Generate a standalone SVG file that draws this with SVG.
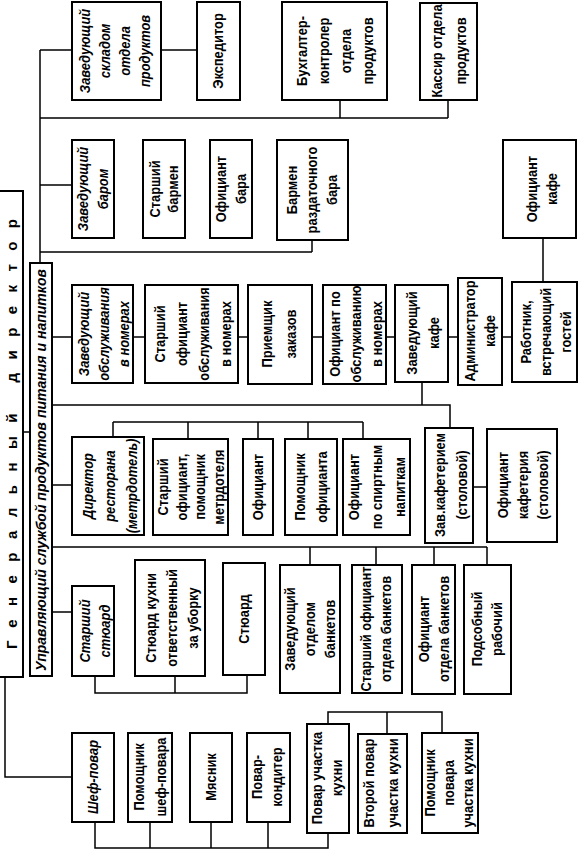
<svg xmlns="http://www.w3.org/2000/svg" width="581" height="852" viewBox="0 0 581 852">
<style>
.b{fill:#fff;stroke:#000;stroke-width:2}
.c{fill:none;stroke:#000;stroke-width:1.5}
.t{font-family:"Liberation Sans",Arial,sans-serif;font-size:15px;font-weight:bold;text-anchor:middle;fill:#000}
.i{font-style:italic}
</style>
<rect width="581" height="852" fill="#fff"/>
<g id="connectors">
<path class="c" d="M40 50V263M40 50H72M161 50H197M40 118H448M340 100V118M448 100V118M40 185H72M40 252H312M312 240V252M543 238V282"/>
<path class="c" d="M23 432H30M52 337H512M422 382V405M52 405H450V428M52 485H72M113 422H363M113 422V437M188 422V439M258 422V439M308 422V439M363 422V439M473 487H487"/>
<path class="c" d="M52 547H487M310 547V565M376 547V565M434 547V565M487 547V565M52 612H72M95 676V693H247V675M175 676V693"/>
<path class="c" d="M5 677V777H72M95 822V848H328V833M150 822V848M211 822V848M268 822V848M328 724V712H442V733M387 712V734"/>
</g>
<g id="director"><rect class="b" x="-3" y="191" width="26" height="486"/>
<text class="t" style="font-size:15px" transform="translate(12,434) rotate(-90)" x="0" y="5" textLength="430" lengthAdjust="spacing">Генеральный директор</text></g>
<g id="manager"><rect class="b" x="30" y="263" width="22" height="413"/>
<text class="t i" style="font-size:15px" transform="translate(41,470) rotate(-90)" x="0" y="5" textLength="402" lengthAdjust="spacingAndGlyphs">Управляющий службой продуктов питания и напитков</text></g>

<g id="n1"><rect class="b" x="72" y="2" width="89" height="98"/><text class="t i" transform="translate(115,51) rotate(-90) scale(0.86,1)"><tspan x="0" y="-25">Заведующий</tspan><tspan x="0" y="-5">складом</tspan><tspan x="0" y="15">отдела</tspan><tspan x="0" y="35">продуктов</tspan></text></g>
<g id="n2"><rect class="b" x="197" y="2" width="43" height="98"/><text class="t" transform="translate(218,51) rotate(-90) scale(0.86,1)"><tspan x="0" y="5">Экспедитор</tspan></text></g>
<g id="n3"><rect class="b" x="282" y="2" width="105" height="98"/><text class="t" transform="translate(335,51) rotate(-90) scale(0.86,1)"><tspan x="0" y="-28">Бухгалтер-</tspan><tspan x="0" y="-6">контролер</tspan><tspan x="0" y="16">отдела</tspan><tspan x="0" y="38">продуктов</tspan></text></g>
<g id="n4"><rect class="b" x="420" y="3" width="57" height="97"/><text class="t" transform="translate(449,51) rotate(-90) scale(0.86,1)"><tspan x="0" y="-7">Кассир отдела</tspan><tspan x="0" y="17">продуктов</tspan></text></g>
<g id="n5"><rect class="b" x="72" y="140" width="42" height="98"/><text class="t i" transform="translate(93,189) rotate(-90) scale(0.86,1)"><tspan x="0" y="-5">Заведующий</tspan><tspan x="0" y="15">баром</tspan></text></g>
<g id="n6"><rect class="b" x="143" y="140" width="42" height="98"/><text class="t" transform="translate(164,189) rotate(-90) scale(0.86,1)"><tspan x="0" y="-4.5">Старший</tspan><tspan x="0" y="14.5">бармен</tspan></text></g>
<g id="n7"><rect class="b" x="210" y="140" width="42" height="98"/><text class="t" transform="translate(231,189) rotate(-90) scale(0.86,1)"><tspan x="0" y="-5">Официант</tspan><tspan x="0" y="15">бара</tspan></text></g>
<g id="n8"><rect class="b" x="277" y="140" width="71" height="100"/><text class="t" transform="translate(312,190) rotate(-90) scale(0.86,1)"><tspan x="0" y="-15">Бармен</tspan><tspan x="0" y="5">раздаточного</tspan><tspan x="0" y="25">бара</tspan></text></g>
<g id="n9"><rect class="b" x="503" y="140" width="73" height="98"/><text class="t" transform="translate(542,189) rotate(-90) scale(0.86,1)"><tspan x="0" y="-5.5">Официант</tspan><tspan x="0" y="15.5">кафе</tspan></text></g>
<g id="n10"><rect class="b" x="72" y="285" width="61" height="98"/><text class="t i" transform="translate(104,334) rotate(-90) scale(0.86,1)"><tspan x="0" y="-15">Заведующий</tspan><tspan x="0" y="5">обслуживания</tspan><tspan x="0" y="25">в номерах</tspan></text></g>
<g id="n11"><rect class="b" x="145" y="285" width="93" height="98"/><text class="t" transform="translate(193,334) rotate(-90) scale(0.86,1)"><tspan x="0" y="-28">Старший</tspan><tspan x="0" y="-6">официант</tspan><tspan x="0" y="16">обслуживания</tspan><tspan x="0" y="38">в номерах</tspan></text></g>
<g id="n12"><rect class="b" x="248" y="285" width="64" height="99"/><text class="t" transform="translate(279,334) rotate(-90) scale(0.86,1)"><tspan x="0" y="-7">Приемщик</tspan><tspan x="0" y="17">заказов</tspan></text></g>
<g id="n13"><rect class="b" x="323" y="285" width="63" height="99"/><text class="t" transform="translate(356,334) rotate(-90) scale(0.86,1)"><tspan x="0" y="-16">Официант по</tspan><tspan x="0" y="5">обслуживанию</tspan><tspan x="0" y="26">в номерах</tspan></text></g>
<g id="n14"><rect class="b" x="395" y="285" width="53" height="97"/><text class="t" transform="translate(423,333) rotate(-90) scale(0.86,1)"><tspan x="0" y="-6">Заведующий</tspan><tspan x="0" y="16">кафе</tspan></text></g>
<g id="n15"><rect class="b" x="458" y="278" width="44" height="107"/><text class="t" transform="translate(480,331) rotate(-90) scale(0.86,1)"><tspan x="0" y="-5">Администратор</tspan><tspan x="0" y="15">кафе</tspan></text></g>
<g id="n16"><rect class="b" x="512" y="282" width="65" height="100"/><text class="t" transform="translate(546,332) rotate(-90) scale(0.86,1)"><tspan x="0" y="-15">Работник,</tspan><tspan x="0" y="5">встречающий</tspan><tspan x="0" y="25">гостей</tspan></text></g>
<g id="n17"><rect class="b" x="72" y="437" width="72" height="98"/><text class="t i" transform="translate(110,486) rotate(-90) scale(0.86,1)"><tspan x="0" y="-17">Директор</tspan><tspan x="0" y="5">ресторана</tspan><tspan x="0" y="27">(метрдотель)</tspan></text></g>
<g id="n18"><rect class="b" x="153" y="439" width="75" height="96"/><text class="t" transform="translate(191,487) rotate(-90) scale(0.86,1)"><tspan x="0" y="-23.5">Старший</tspan><tspan x="0" y="-4.5">официант,</tspan><tspan x="0" y="14.5">помощник</tspan><tspan x="0" y="33.5">метрдотеля</tspan></text></g>
<g id="n19"><rect class="b" x="243" y="439" width="30" height="96"/><text class="t" transform="translate(258,487) rotate(-90) scale(0.86,1)"><tspan x="0" y="5">Официант</tspan></text></g>
<g id="n20"><rect class="b" x="285" y="439" width="52" height="96"/><text class="t" transform="translate(311,487) rotate(-90) scale(0.86,1)"><tspan x="0" y="-6">Помощник</tspan><tspan x="0" y="16">официанта</tspan></text></g>
<g id="n21"><rect class="b" x="343" y="439" width="67" height="96"/><text class="t" transform="translate(377,487) rotate(-90) scale(0.86,1)"><tspan x="0" y="-18">Официант</tspan><tspan x="0" y="5">по спиртным</tspan><tspan x="0" y="28">напиткам</tspan></text></g>
<g id="n22"><rect class="b" x="425" y="428" width="48" height="115"/><text class="t" transform="translate(451,485) rotate(-90) scale(0.86,1)"><tspan x="0" y="-6">Зав.кафетерием</tspan><tspan x="0" y="16">(столовой)</tspan></text></g>
<g id="n23"><rect class="b" x="487" y="429" width="70" height="113"/><text class="t" transform="translate(523,485) rotate(-90) scale(0.86,1)"><tspan x="0" y="-15">Официант</tspan><tspan x="0" y="5">кафетерия</tspan><tspan x="0" y="25">(столовой)</tspan></text></g>
<g id="n24"><rect class="b" x="72" y="586" width="42" height="90"/><text class="t i" transform="translate(95,631) rotate(-90) scale(0.86,1)"><tspan x="0" y="-5">Старший</tspan><tspan x="0" y="15">стюард</tspan></text></g>
<g id="n25"><rect class="b" x="135" y="560" width="70" height="116"/><text class="t" transform="translate(172,618) rotate(-90) scale(0.86,1)"><tspan x="0" y="-16">Стюард кухни</tspan><tspan x="0" y="5">ответственный</tspan><tspan x="0" y="26">за уборку</tspan></text></g>
<g id="n26"><rect class="b" x="223" y="563" width="42" height="112"/><text class="t" transform="translate(244,619) rotate(-90) scale(0.86,1)"><tspan x="0" y="5">Стюард</tspan></text></g>
<g id="n27"><rect class="b" x="280" y="565" width="60" height="128"/><text class="t" transform="translate(310,629) rotate(-90) scale(0.86,1)"><tspan x="0" y="-15">Заведующий</tspan><tspan x="0" y="5">отделом</tspan><tspan x="0" y="25">банкетов</tspan></text></g>
<g id="n28"><rect class="b" x="352" y="565" width="50" height="128"/><text class="t" transform="translate(376,629) rotate(-90) scale(0.86,1)"><tspan x="0" y="-5">Старший официант</tspan><tspan x="0" y="15">отдела банкетов</tspan></text></g>
<g id="n29"><rect class="b" x="412" y="565" width="43" height="129"/><text class="t" transform="translate(434,629) rotate(-90) scale(0.86,1)"><tspan x="0" y="-5.5">Официант</tspan><tspan x="0" y="15.5">отдела банкетов</tspan></text></g>
<g id="n30"><rect class="b" x="464" y="565" width="47" height="129"/><text class="t" transform="translate(487,629) rotate(-90) scale(0.86,1)"><tspan x="0" y="-5">Подсобный</tspan><tspan x="0" y="15">рабочий</tspan></text></g>
<g id="n31"><rect class="b" x="72" y="733" width="42" height="89"/><text class="t i" transform="translate(93,777) rotate(-90) scale(0.86,1)"><tspan x="0" y="5">Шеф-повар</tspan></text></g>
<g id="n32"><rect class="b" x="128" y="733" width="44" height="89"/><text class="t" transform="translate(150,777) rotate(-90) scale(0.86,1)"><tspan x="0" y="-6">Помощник</tspan><tspan x="0" y="16">шеф-повара</tspan></text></g>
<g id="n33"><rect class="b" x="190" y="733" width="42" height="89"/><text class="t" transform="translate(211,777) rotate(-90) scale(0.86,1)"><tspan x="0" y="5">Мясник</tspan></text></g>
<g id="n34"><rect class="b" x="247" y="733" width="43" height="89"/><text class="t" transform="translate(267,777) rotate(-90) scale(0.86,1)"><tspan x="0" y="-5.5">Повар-</tspan><tspan x="0" y="15.5">кондитер</tspan></text></g>
<g id="n35"><rect class="b" x="307" y="724" width="42" height="109"/><text class="t" transform="translate(327,778) rotate(-90) scale(0.86,1)"><tspan x="0" y="-5">Повар участка</tspan><tspan x="0" y="15">кухни</tspan></text></g>
<g id="n36"><rect class="b" x="358" y="734" width="49" height="99"/><text class="t" transform="translate(381,783) rotate(-90) scale(0.86,1)"><tspan x="0" y="-7.5">Второй повар</tspan><tspan x="0" y="17.5">участка кухни</tspan></text></g>
<g id="n37"><rect class="b" x="422" y="733" width="56" height="100"/><text class="t" transform="translate(449,783) rotate(-90) scale(0.86,1)"><tspan x="0" y="-14">Помощник</tspan><tspan x="0" y="5">повара</tspan><tspan x="0" y="24">участка кухни</tspan></text></g>
</svg>
